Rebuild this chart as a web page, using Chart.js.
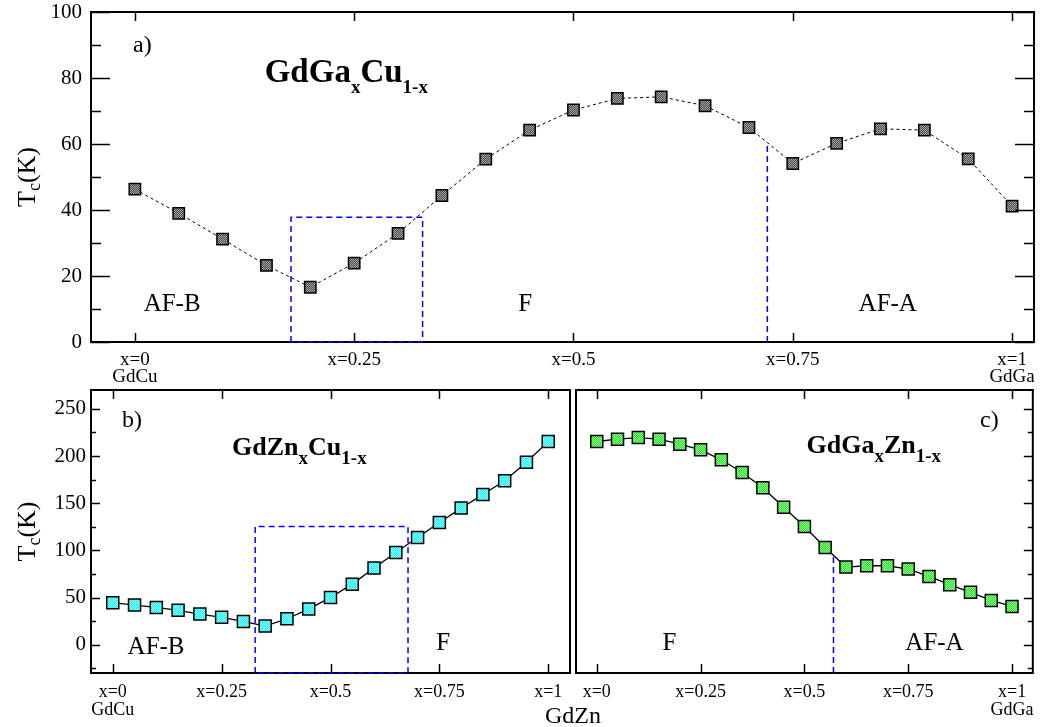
<!DOCTYPE html>
<html>
<head>
<meta charset="utf-8">
<script src="https://cdn.jsdelivr.net/npm/chart.js@4.4.1/dist/chart.umd.min.js"></script>
<style>
  body { margin: 0; background: #fff; width: 1044px; height: 727px; position: relative; overflow: hidden; }
  canvas { position: absolute; }
  #gdzn { position: absolute; left: 523px; top: 703px; width: 100px; text-align: center;
          font: 24px "Liberation Serif", serif; line-height: 24px; color: #000; }
</style>
</head>
<body>
<canvas id="chartA" width="1044" height="398" style="left:0;top:-10px"></canvas>
<canvas id="chartB" width="580" height="355" style="left:0;top:372px"></canvas>
<canvas id="chartC" width="484" height="355" style="left:560px;top:372px"></canvas>
<div id="gdzn">GdZn</div>
<script>
// composition x and Tc values (K)
const composition = [0, 0.05, 0.1, 0.15, 0.2, 0.25, 0.3, 0.35, 0.4, 0.45, 0.5,
                     0.55, 0.6, 0.65, 0.7, 0.75, 0.8, 0.85, 0.9, 0.95, 1];
const tcGdGaCu = [46.3, 39.0, 31.2, 23.2, 16.6, 23.9, 32.9, 44.4, 55.4, 64.2, 70.3,
                  73.8, 74.3, 71.6, 65.0, 54.1, 60.2, 64.6, 64.2, 55.5, 41.2];
const tcGdZnCu = [44.5, 42.0, 39.5, 36.4, 32.5, 29.0, 24.7, 19.8, 27.5, 37.8, 50.1,
                  64.2, 81.2, 97.8, 113.7, 129.6, 144.8, 159.2, 173.7, 193.5, 215.4];
const tcGdGaZn = [215.4, 217.9, 219.6, 217.9, 212.6, 206.6, 196.0, 182.5, 166.3, 145.8, 125.3,
                  103.1, 82.3, 83.7, 83.7, 80.2, 72.4, 63.6, 55.5, 46.9, 40.6];

// axis ticks
const xTickValues = [0, 0.25, 0.5, 0.75, 1];
const xLabelsA = [['x=0', 'GdCu'], 'x=0.25', 'x=0.5', 'x=0.75', ['x=1', 'GdGa']];
const xLabelsB = [['x=0', 'GdCu'], 'x=0.25', 'x=0.5', 'x=0.75', 'x=1'];
const xLabelsC = ['x=0', 'x=0.25', 'x=0.5', 'x=0.75', ['x=1', 'GdGa']];
const yTicksA = [0, 20, 40, 60, 80, 100];
const yMinorA = [10, 30, 50, 70, 90];
const yTicksB = [0, 50, 100, 150, 200, 250];
const yMinorB = [-25, 25, 75, 125, 175, 225];

// phase boundaries (blue dashed), in data units
const boxA = [{ x0: 0.178, x1: 0.328, top: 37.8 }];
const vlineA = [{ x: 0.721, top: 60.5 }];
const boxB = [{ x0: 0.327, x1: 0.678, top: 125.3 }];
const vlineC = [{ x: 0.570, top: 95 }];

const FONT = '"Liberation Serif", "Times New Roman", serif';

function dotPattern(base, dot) {
  const c = document.createElement('canvas');
  c.width = 2; c.height = 2;
  const g = c.getContext('2d');
  g.fillStyle = base; g.fillRect(0, 0, 2, 2);
  g.fillStyle = dot; g.fillRect(0, 0, 1, 1); g.fillRect(1, 1, 1, 1);
  return g.createPattern(c, 'repeat');
}

function drawRich(ctx, x, y, parts) {
  let cx = x;
  parts.forEach(p => {
    ctx.font = (p.bold ? 'bold ' : '') + p.size + 'px ' + FONT;
    ctx.fillText(p.t, cx, y + (p.dy || 0));
    cx += ctx.measureText(p.t).width;
  });
}

function richWidth(ctx, parts) {
  let w = 0;
  parts.forEach(p => {
    ctx.font = (p.bold ? 'bold ' : '') + p.size + 'px ' + FONT;
    w += ctx.measureText(p.t).width;
  });
  return w;
}

// frame, inward ticks, phase lines, labels
const framePlugin = {
  id: 'frame',
  afterDraw(chart, args, opts) {
    const { ctx, chartArea: a } = chart;
    const x = chart.scales.x, y = chart.scales.y;
    ctx.save();

    // ticks
    ctx.strokeStyle = '#000';
    ctx.lineWidth = 1.5;
    ctx.beginPath();
    xTickValues.forEach(v => {
      const px = Math.round(x.getPixelForValue(v)) + 0.5;
      ctx.moveTo(px, a.bottom); ctx.lineTo(px, a.bottom - opts.xLen);
      ctx.moveTo(px, a.top); ctx.lineTo(px, a.top + opts.xLen);
    });
    const yTick = (v, len) => {
      const py = Math.round(y.getPixelForValue(v)) + 0.5;
      if (opts.left) { ctx.moveTo(a.left, py); ctx.lineTo(a.left + len, py); }
      if (opts.right) { ctx.moveTo(a.right, py); ctx.lineTo(a.right - len, py); }
    };
    opts.yMajor.forEach(v => yTick(v, opts.majorLen));
    opts.yMinor.forEach(v => yTick(v, opts.minorLen));
    ctx.stroke();

    // frame
    ctx.lineWidth = 2;
    ctx.strokeRect(a.left, a.top, a.right - a.left, a.bottom - a.top);

    // phase boundaries
    ctx.strokeStyle = '#0000ff';
    ctx.lineWidth = 1.5;
    ctx.setLineDash([6, 4]);
    (opts.boxes || []).forEach(b => {
      const xl = x.getPixelForValue(b.x0), xr = x.getPixelForValue(b.x1);
      const yt = y.getPixelForValue(b.top), yb = y.getPixelForValue(y.min);
      ctx.beginPath();
      ctx.moveTo(xl, yb); ctx.lineTo(xl, yt); ctx.lineTo(xr, yt); ctx.lineTo(xr, yb); ctx.closePath();
      ctx.stroke();
    });
    (opts.vlines || []).forEach(l => {
      const px = x.getPixelForValue(l.x);
      ctx.beginPath();
      ctx.moveTo(px, y.getPixelForValue(y.min)); ctx.lineTo(px, y.getPixelForValue(l.top));
      ctx.stroke();
    });
    ctx.setLineDash([]);

    // labels in the plot
    ctx.fillStyle = '#000';
    ctx.textAlign = 'left';
    ctx.textBaseline = 'alphabetic';
    (opts.texts || []).forEach(t => {
      drawRich(ctx, x.getPixelForValue(t.x), y.getPixelForValue(t.y), t.parts);
    });

    // y axis title T_c(K)
    if (opts.yTitle) {
      const parts = [{ t: 'T', size: 26 }, { t: 'c', size: 18, dy: 5 }, { t: '(K)', size: 26 }];
      const w = richWidth(ctx, parts);
      ctx.translate(opts.yTitle.x, (a.top + a.bottom) / 2);
      ctx.rotate(-Math.PI / 2);
      drawRich(ctx, -w / 2, 0, parts);
    }
    ctx.restore();
  }
};

function xScale(min, max, labels, height, padding, size, lineHeight) {
  return {
    type: 'linear', min: min, max: max,
    grid: { display: false, drawTicks: false }, border: { display: false },
    afterBuildTicks: s => { s.ticks = xTickValues.map(v => ({ value: v })); },
    afterFit: s => { s.height = height; },
    ticks: { autoSkip: false, maxRotation: 0, padding: padding, color: '#000',
             font: { family: FONT, size: size, lineHeight: lineHeight },
             callback: (v, i) => labels[i] }
  };
}

function yScale(min, max, ticks, width, padding, show) {
  return {
    type: 'linear', min: min, max: max, display: show,
    grid: { display: false, drawTicks: false }, border: { display: false },
    afterBuildTicks: s => { s.ticks = ticks.map(v => ({ value: v })); },
    afterFit: s => { if (show) s.width = width; },
    ticks: { padding: padding, color: '#000', font: { family: FONT, size: 21 } }
  };
}

function series(values, fill, dashed, lineWidth, radius) {
  return {
    data: composition.map((c, i) => ({ x: c, y: values[i] })),
    borderColor: '#000', borderWidth: lineWidth, borderDash: dashed ? [3, 3] : [],
    pointStyle: 'rect', pointRadius: radius, pointHoverRadius: radius,
    pointBackgroundColor: fill, pointBorderColor: '#000', pointBorderWidth: 1.5,
    tension: 0
  };
}

const baseOptions = { responsive: false, animation: false, devicePixelRatio: 1 };

// a) GdGa_xCu_1-x
new Chart(document.getElementById('chartA'), {
  type: 'line',
  data: { datasets: [series(tcGdGaCu, dotPattern('#484848', '#a6a6a6'), true, 1, 8)] },
  options: Object.assign({}, baseOptions, {
    layout: { padding: { left: 0, top: 22, right: 8, bottom: 0 } },
    plugins: {
      legend: { display: false }, tooltip: { enabled: false },
      frame: {
        xLen: 9, left: true, right: true, majorLen: 19, minorLen: 10,
        yMajor: yTicksA, yMinor: yMinorA, boxes: boxA, vlines: vlineA,
        yTitle: { x: 35 },
        texts: [
          { x: -0.002, y: 87.9, parts: [{ t: 'a)', size: 24 }] },
          { x: 0.148, y: 78.9, parts: [{ t: 'GdGa', size: 33, bold: true }, { t: 'x', size: 19, bold: true, dy: 11 },
                                         { t: 'Cu', size: 33, bold: true }, { t: '1-x', size: 19, bold: true, dy: 11 }] },
          { x: 0.010, y: 9.4, parts: [{ t: 'AF-B', size: 25 }] },
          { x: 0.437, y: 9.4, parts: [{ t: 'F', size: 25 }] },
          { x: 0.825, y: 9.4, parts: [{ t: 'AF-A', size: 25 }] }
        ]
      }
    },
    scales: {
      x: xScale(-0.05, 1.025, xLabelsA, 46, 9, 19, 0.9),
      y: yScale(0, 100, yTicksA, 91, 9, true)
    }
  }),
  plugins: [framePlugin]
});

// b) GdZn_xCu_1-x
new Chart(document.getElementById('chartB'), {
  type: 'line',
  data: { datasets: [series(tcGdZnCu, dotPattern('#1ef2f2', '#8cffff'), false, 1.3, 8.5)] },
  options: Object.assign({}, baseOptions, {
    layout: { padding: { left: 0, top: 18, right: 10, bottom: 0 } },
    plugins: {
      legend: { display: false }, tooltip: { enabled: false },
      frame: {
        xLen: 9, left: true, right: false, majorLen: 9, minorLen: 5,
        yMajor: yTicksB, yMinor: yMinorB, boxes: boxB, vlines: [],
        yTitle: { x: 35 },
        texts: [
          { x: 0.021, y: 231, parts: [{ t: 'b)', size: 24 }] },
          { x: 0.274, y: 201.3, parts: [{ t: 'GdZn', size: 26, bold: true }, { t: 'x', size: 19, bold: true, dy: 9 },
                                          { t: 'Cu', size: 26, bold: true }, { t: '1-x', size: 19, bold: true, dy: 9 }] },
          { x: 0.034, y: -9.5, parts: [{ t: 'AF-B', size: 25 }] },
          { x: 0.743, y: -5.3, parts: [{ t: 'F', size: 25 }] }
        ]
      }
    },
    scales: {
      x: xScale(-0.05, 1.05, xLabelsB, 54, 10, 18, 1.0),
      y: yScale(-30, 270, yTicksB, 91, 5, true)
    }
  }),
  plugins: [framePlugin]
});

// c) GdGa_xZn_1-x
new Chart(document.getElementById('chartC'), {
  type: 'line',
  data: { datasets: [series(tcGdGaZn, dotPattern('#2edc2e', '#8cff8c'), false, 1.3, 8.5)] },
  options: Object.assign({}, baseOptions, {
    layout: { padding: { left: 16, top: 18, right: 8, bottom: 0 } },
    plugins: {
      legend: { display: false }, tooltip: { enabled: false },
      frame: {
        xLen: 9, left: false, right: true, majorLen: 9, minorLen: 5,
        yMajor: yTicksB, yMinor: yMinorB, boxes: [], vlines: vlineC,
        texts: [
          { x: 0.923, y: 231, parts: [{ t: 'c)', size: 24 }] },
          { x: 0.505, y: 203.7, parts: [{ t: 'GdGa', size: 26, bold: true }, { t: 'x', size: 19, bold: true, dy: 9 },
                                          { t: 'Zn', size: 26, bold: true }, { t: '1-x', size: 19, bold: true, dy: 9 }] },
          { x: 0.158, y: -5.3, parts: [{ t: 'F', size: 25 }] },
          { x: 0.743, y: -5.3, parts: [{ t: 'AF-A', size: 25 }] }
        ]
      }
    },
    scales: {
      x: xScale(-0.05, 1.05, xLabelsC, 54, 10, 18, 1.0),
      y: yScale(-30, 270, yTicksB, 0, 0, false)
    }
  }),
  plugins: [framePlugin]
});
</script>
</body>
</html>
